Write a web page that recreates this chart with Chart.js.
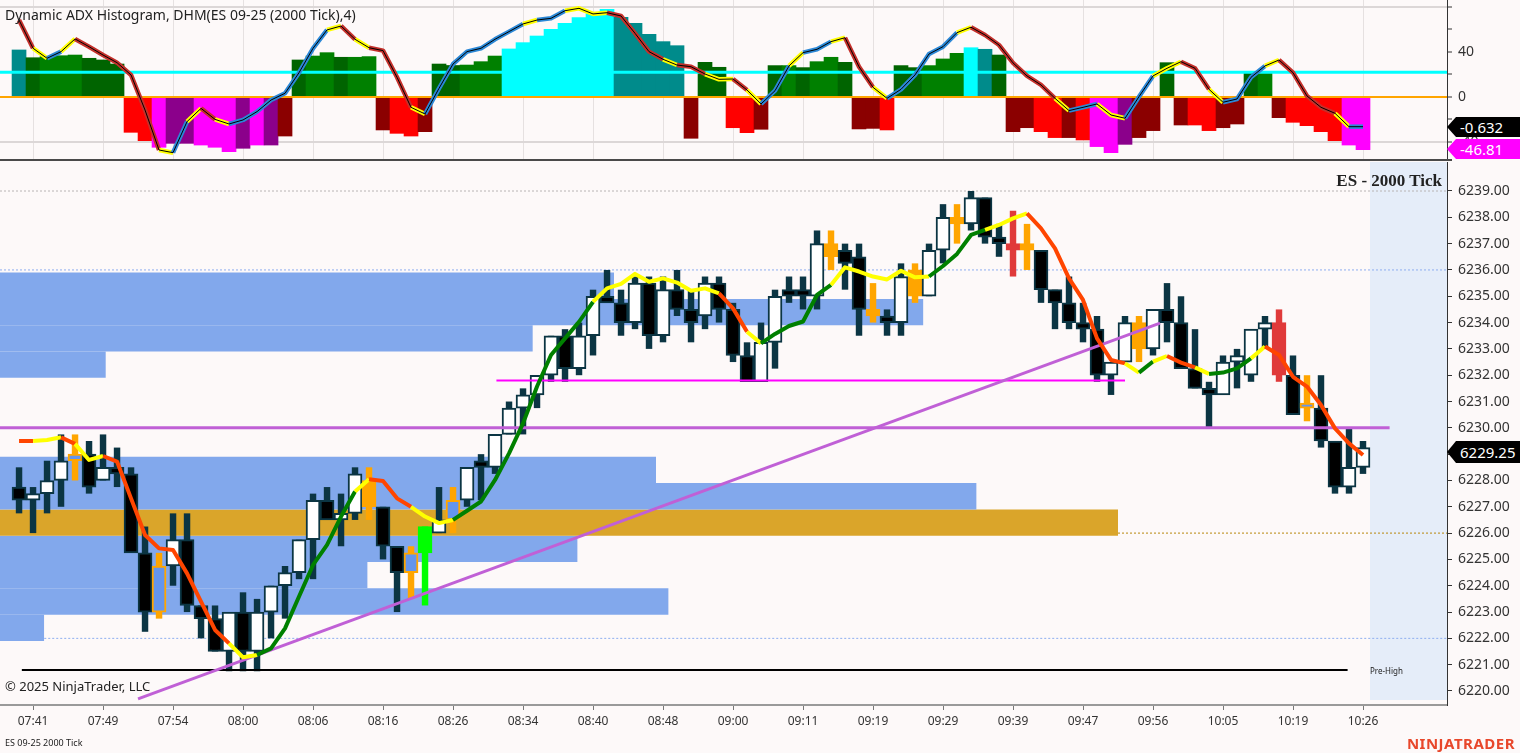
<!DOCTYPE html>
<html>
<head>
<meta charset="utf-8">
<script src="https://cdn.jsdelivr.net/npm/chart.js@4.4.1/dist/chart.umd.min.js"></script>
<style>
  html, body { margin: 0; padding: 0; background: #fdf9f9; }
  body { width: 1520px; height: 753px; position: relative; overflow: hidden; font-family: 'Noto Sans', 'Open Sans', sans-serif; color: #222; }
  canvas { position: absolute; left: 0; }
  #adx { top: 0; }
  #price { top: 160px; }
  .txt { position: absolute; white-space: nowrap; }
  .tag { position: absolute; left: 1447px; width: 60px; padding-left: 13px; color: #fff; font-size: 15px;
         clip-path: polygon(0 50%, 9px 0, 100% 0, 100% 100%, 9px 100%); }
  #sep { position: absolute; left: 0; top: 159px; width: 1452px; height: 2px; background: #4a4a4a; }
</style>
</head>
<body>
<canvas id="adx" width="1520" height="160"></canvas>
<canvas id="price" width="1520" height="593"></canvas>
<div id="sep"></div>

<div class="txt" style="left:5px; top:5px; font-size:14px; line-height:20px;">Dynamic ADX Histogram, DHM(ES 09-25 (2000 Tick),4)</div>
<div class="txt" style="right:78px; top:171px; font-size:17px; line-height:20px; font-weight:bold; font-family:'Liberation Serif', 'DejaVu Serif', serif;">ES - 2000 Tick</div>
<div class="txt" style="left:5px; top:677px; font-size:13px; line-height:18px;">© 2025 NinjaTrader, LLC</div>
<div class="txt" style="left:1370px; top:666px; font-size:8px; line-height:10px;">Pre-High</div>
<div class="txt" style="left:5px; top:737px; font-size:9px; line-height:12px;">ES 09-25 2000 Tick</div>
<div class="txt" style="right:5px; top:734px; font-size:15px; line-height:18px; font-weight:bold; color:#e8472b; letter-spacing:0.5px;">NINJATRADER</div>

<div class="tag" style="top:117px; height:20px; line-height:20px; background:#000;">-0.632</div>
<div class="tag" style="top:139px; height:20px; line-height:20px; background:#ff00ff;">-46.81</div>
<div class="tag" style="top:441px; height:22px; line-height:22px; background:#000;">6229.25</div>

<script>
console.log("dhm chart loaded");

// time axis
const timeLabels = ["07:41", "07:49", "07:54", "08:00", "08:06", "08:16", "08:26", "08:34", "08:40", "08:48",
  "09:00", "09:11", "09:19", "09:29", "09:39", "09:47", "09:56", "10:05", "10:19", "10:26"];
const labelBars = [1, 6, 11, 16, 21, 26, 31, 36, 41, 46, 51, 56, 61, 66, 71, 76, 81, 86, 91, 96];

// price bars (2000 tick)
const opens = [6227.75, 6227.25, 6227.5, 6228.0, 6228.75, 6229.0, 6228.0, 6228.5, 6228.25, 6225.25,
  6223.0, 6224.75, 6225.75, 6223.25, 6222.75, 6221.5, 6223.0, 6221.5, 6223.0, 6224.0,
  6224.5, 6225.75, 6227.25, 6226.5, 6226.75, 6228.0, 6227.0, 6225.5, 6224.5, 6225.25,
  6226.0, 6226.5, 6227.25, 6228.75, 6228.5, 6229.75, 6230.75, 6231.25, 6232.0, 6233.5,
  6232.25, 6233.5, 6235.0, 6234.75, 6234.0, 6235.5, 6233.5, 6235.25, 6234.5, 6234.25,
  6235.5, 6234.5, 6232.75, 6231.75, 6233.25, 6235.25, 6235.25, 6235.0, 6236.5, 6236.75,
  6236.5, 6234.5, 6234.25, 6234.0, 6236.0, 6235.0, 6236.75, 6238.0, 6237.75, 6238.75,
  6237.25, 6237.0, 6237.0, 6236.75, 6235.25, 6234.75, 6234.0, 6233.75, 6232.0, 6232.5,
  6234.0, 6233.0, 6234.5, 6234.0, 6232.25, 6231.5, 6231.25, 6232.5, 6232.0, 6233.75,
  6234.0, 6232.0, 6230.75, 6230.75, 6229.5, 6227.75, 6228.5];
const highs = [6228.5, 6227.75, 6228.75, 6229.75, 6229.75, 6229.5, 6229.75, 6229.25, 6228.5, 6226.25,
  6225.25, 6226.75, 6226.75, 6223.25, 6223.25, 6223.0, 6223.75, 6223.5, 6224.0, 6224.75,
  6225.75, 6227.5, 6227.75, 6227.5, 6228.5, 6228.5, 6227.0, 6225.5, 6225.5, 6226.25,
  6227.75, 6227.75, 6228.5, 6229.0, 6229.75, 6231.0, 6231.5, 6232.0, 6233.5, 6233.75,
  6234.0, 6235.25, 6236.0, 6235.25, 6235.75, 6235.75, 6235.75, 6236.0, 6235.25, 6235.75,
  6235.75, 6234.75, 6233.25, 6234.0, 6235.25, 6235.75, 6235.75, 6237.5, 6237.5, 6237.0,
  6237.0, 6235.5, 6234.5, 6236.25, 6236.25, 6237.0, 6238.5, 6238.5, 6239.0, 6238.75,
  6237.75, 6238.25, 6237.75, 6236.75, 6235.25, 6235.75, 6234.75, 6234.25, 6232.5, 6234.25,
  6234.25, 6234.5, 6235.5, 6235.0, 6233.75, 6231.75, 6232.75, 6233.0, 6233.75, 6234.25,
  6234.5, 6232.75, 6232.0, 6232.0, 6229.5, 6230.0, 6229.5];
const lows = [6226.75, 6226.0, 6226.75, 6227.0, 6228.0, 6227.5, 6228.0, 6227.75, 6225.25, 6222.25,
  6222.75, 6224.0, 6223.0, 6222.0, 6221.5, 6220.75, 6220.75, 6220.75, 6222.0, 6222.75,
  6224.25, 6224.25, 6226.5, 6225.5, 6226.5, 6226.5, 6225.0, 6223.0, 6223.5, 6223.25,
  6226.0, 6226.0, 6227.0, 6227.25, 6228.25, 6229.75, 6229.75, 6230.75, 6231.75, 6231.75,
  6232.0, 6232.75, 6234.75, 6233.5, 6233.75, 6233.0, 6233.25, 6234.25, 6233.25, 6233.75,
  6234.0, 6232.5, 6231.75, 6231.75, 6232.25, 6234.75, 6234.5, 6234.5, 6236.0, 6235.25,
  6233.5, 6234.0, 6233.5, 6233.5, 6234.75, 6235.0, 6236.25, 6237.0, 6237.5, 6237.0,
  6236.5, 6235.75, 6236.0, 6234.75, 6233.75, 6233.75, 6233.25, 6231.75, 6231.25, 6232.5,
  6232.5, 6232.75, 6233.25, 6232.25, 6231.5, 6230.0, 6231.25, 6231.5, 6231.75, 6233.0,
  6231.75, 6230.5, 6230.25, 6229.25, 6227.5, 6227.5, 6228.25];
const closes = [6227.25, 6227.5, 6228.0, 6228.75, 6229.0, 6227.75, 6228.5, 6228.25, 6225.25, 6223.0,
  6224.75, 6225.75, 6223.25, 6222.75, 6221.5, 6223.0, 6221.5, 6223.0, 6224.0, 6224.5,
  6225.75, 6227.25, 6226.5, 6226.75, 6228.25, 6227.0, 6225.5, 6224.5, 6225.25, 6226.25,
  6226.5, 6227.25, 6228.5, 6228.5, 6229.75, 6230.75, 6231.25, 6232.0, 6233.5, 6232.25,
  6233.5, 6235.0, 6234.75, 6234.0, 6235.5, 6233.5, 6235.25, 6234.5, 6234.0, 6235.5,
  6234.5, 6232.75, 6231.75, 6233.25, 6235.0, 6235.0, 6235.0, 6237.0, 6237.0, 6236.25,
  6234.5, 6234.25, 6234.0, 6235.75, 6235.0, 6236.75, 6238.0, 6237.75, 6238.75, 6237.25,
  6237.0, 6236.75, 6236.75, 6235.25, 6234.75, 6234.0, 6233.75, 6232.0, 6232.5, 6234.0,
  6233.0, 6234.5, 6234.0, 6232.25, 6231.5, 6231.25, 6232.5, 6232.75, 6233.75, 6234.0,
  6232.0, 6230.5, 6230.75, 6229.5, 6227.75, 6228.5, 6229.25];
// n = normal, o = orange signal, ob = orange signal with hollow body, g = green signal, r = red signal
const candleKind = ["n", "n", "n", "n", "ob", "n", "n", "n", "n", "n",
  "ob", "n", "n", "n", "n", "n", "n", "n", "n", "n",
  "n", "n", "n", "n", "n", "o", "n", "n", "ob", "g",
  "n", "ob", "n", "n", "n", "n", "n", "n", "n", "n",
  "n", "n", "n", "n", "n", "n", "n", "n", "n", "n",
  "n", "n", "n", "n", "n", "n", "n", "n", "o", "n",
  "n", "o", "n", "n", "o", "n", "n", "o", "n", "n",
  "n", "r", "o", "n", "n", "n", "n", "n", "n", "n",
  "o", "n", "n", "n", "n", "n", "n", "n", "n", "n",
  "r", "n", "ob", "n", "n", "n", "n"];

// trend moving average on price, with its trend state per segment (d = down, f = flat, u = up)
const maValues = [6229.5, 6229.5, 6229.54, 6229.64, 6229.39, 6228.78, 6228.93, 6228.72, 6227.32, 6225.93,
  6225.42, 6225.36, 6224.47, 6223.4, 6222.32, 6221.81, 6221.28, 6221.37, 6221.62, 6222.38,
  6223.59, 6224.79, 6225.55, 6226.63, 6227.58, 6228.05, 6227.98, 6227.32, 6227.0, 6226.63,
  6226.38, 6226.5, 6226.85, 6227.2, 6228.02, 6229.03, 6230.17, 6231.57, 6232.77, 6233.4,
  6234.03, 6234.79, 6235.3, 6235.47, 6235.85, 6235.55, 6235.68, 6235.52, 6235.21, 6235.3,
  6235.11, 6234.54, 6233.65, 6233.21, 6233.57, 6233.87, 6234.04, 6235.05, 6235.43, 6236.1,
  6235.94, 6235.75, 6235.64, 6235.97, 6235.72, 6235.75, 6236.15, 6236.61, 6237.33, 6237.52,
  6237.71, 6237.96, 6238.15, 6237.58, 6236.82, 6235.68, 6234.86, 6233.4, 6232.58, 6232.45,
  6232.1, 6232.52, 6232.73, 6232.48, 6232.3, 6232.05, 6232.1, 6232.26, 6232.64, 6233.09,
  6232.77, 6231.94, 6231.57, 6230.87, 6229.98, 6229.41, 6228.97];
const maTrend = ["d", "f", "f", "d", "f", "f", "d", "d", "d", "d",
  "d", "d", "d", "d", "d", "f", "f", "u", "u", "u",
  "u", "u", "u", "u", "f", "d", "d", "d", "f", "f",
  "f", "u", "u", "u", "u", "u", "u", "u", "u", "u",
  "u", "f", "f", "f", "f", "f", "f", "f", "f", "f",
  "d", "d", "f", "u", "u", "u", "u", "u", "f", "f",
  "f", "f", "f", "f", "f", "u", "u", "u", "u", "f",
  "f", "f", "d", "d", "d", "d", "d", "d", "d", "f",
  "u", "f", "d", "d", "f", "u", "u", "u", "f", "d",
  "d", "d", "d", "d", "d", "d"];

// zones: [low, high] price band and the bar where it ends
const zoneLow = [6234.9, 6233.9, 6232.9, 6231.9, 6227.9, 6226.9, 6225.9, 6224.9, 6223.9, 6222.9, 6221.9];
const zoneHigh = [6235.9, 6234.9, 6233.9, 6232.9, 6228.9, 6227.9, 6226.9, 6225.9, 6224.9, 6223.9, 6222.9];
const zoneEnd = [42.5, 64.6, 36.7, 6.2, 45.5, 68.4, 78.5, 39.9, 24.9, 46.4, 1.8];
const zoneKind = ["s", "s", "s", "s", "d", "d", "g", "d", "d", "d", "d"];

// dotted level lines
const dotLevels = [6239.0, 6236.0, 6226.0, 6222.0];
const dotStart = [-1.36, -1.36, 78.5, 1.8];
const dotKind = ["gray", "blue", "gold", "blue"];

// drawn lines
const pivotLevel = 6230.0;
const pivotSpan = [-1.36, 97.9];
const pinkLevel = 6231.8;
const pinkSpan = [34.1, 79.0];
const preHigh = 6220.8;
const preHighSpan = [0.2, 94.9];
const trendX = [8.5, 81.5];
const trendY = [6219.7, 6233.98];
const futureFrom = 96.5;
const futureLow = 6219.66;
const priceTicks = [6220, 6221, 6222, 6223, 6224, 6225, 6226, 6227, 6228, 6229,
  6230, 6231, 6232, 6233, 6234, 6235, 6236, 6237, 6238, 6239];

// ADX histogram panel
const histValues = [41.8, 34.9, 35.9, 36.7, 37.3, 34.4, 32.9, 29.3, -31.4, -38.8,
  -44.7, -41.2, -41.2, -42.7, -44.7, -48.6, -45.6, -42.7, -42.7, -34.7,
  32.9, 36.4, 39.4, 35.3, 35.3, 35.9, -29.3, -32.3, -34.7, -30.8,
  29.3, 28.0, 28.4, 31.4, 36.4, 42.7, 48.3, 54.2, 60.1, 65.5,
  70.5, 73.8, 77.9, 70.8, 65.5, 55.7, 49.2, 45.6, -36.7, 30.8,
  26.4, -27.3, -31.7, -28.7, 27.9, 27.9, 26.1, 31.4, 35.3, 30.8,
  -28.4, -27.9, -29.3, 27.9, 26.1, 27.9, 33.8, 38.8, 43.8, 42.4,
  37.3, -30.8, -27.3, -30.8, -36.1, -36.1, -38.2, -44.1, -49.5, -42.1,
  -36.1, -29.9, 30.5, -24.9, -24.9, -29.9, -27.3, -24.0, 21.0, 21.0,
  -18.4, -22.5, -25.5, -30.8, -38.8, -42.7, -46.8];
const histState = ["T", "DG", "G", "G", "G", "DG", "DG", "DG", "R", "R",
  "M", "P", "P", "M", "M", "M", "P", "M", "P", "DR",
  "DG", "G", "G", "DG", "G", "G", "DR", "R", "R", "DR",
  "DG", "DG", "G", "G", "G", "C", "C", "C", "C", "C",
  "C", "C", "C", "T", "T", "T", "T", "T", "DR", "DG",
  "DG", "R", "R", "DR", "DG", "G", "DG", "G", "G", "DG",
  "DR", "DR", "R", "DG", "DG", "G", "G", "G", "C", "T",
  "DG", "DR", "DR", "R", "R", "DR", "R", "M", "M", "P",
  "DR", "DR", "DG", "DR", "R", "R", "DR", "DR", "DG", "G",
  "DR", "R", "R", "R", "R", "M", "M"];
const adxValues = [68.4, 43.3, 34.4, 40.3, 51.6, 44.7, 37.3, 30.5, 19.6, -11.6,
  -47.1, -49.5, -21.9, -10.1, -19.9, -24.0, -20.4, -13.0, -2.7, 3.3,
  21.6, 43.3, 59.6, 63.1, 51.3, 43.8, 41.2, 17.5, -9.2, -15.1,
  7.7, 29.3, 40.3, 43.3, 51.3, 58.1, 64.9, 68.4, 69.9, 76.7,
  78.8, 73.8, 74.9, 72.0, 56.6, 40.3, 33.5, 28.4, 26.9, 20.4,
  15.7, 16.0, 6.2, -6.2, 5.6, 27.6, 39.4, 42.4, 49.2, 52.7,
  26.9, 8.6, -1.2, 6.8, 19.6, 38.2, 44.7, 57.2, 62.0, 55.1,
  46.2, 30.3, 18.7, 10.7, -1.2, -12.1, -9.2, -6.2, -16.0, -18.9,
  0.3, 18.7, 25.5, 31.4, 25.5, 6.8, -4.7, -1.8, 17.5, 27.6,
  32.9, 21.6, 0.9, -9.2, -14.5, -26.4, -26.4];
const adxTrend = ["R", "Y", "B", "Y", "R", "R", "R", "R", "R", "R",
  "Y", "B", "Y", "R", "Y", "B", "B", "B", "B", "B",
  "B", "B", "Y", "R", "Y", "R", "R", "R", "Y", "B",
  "B", "B", "B", "B", "B", "B", "Y", "B", "B", "Y",
  "Y", "Y", "R", "R", "R", "R", "Y", "R", "R", "Y",
  "Y", "R", "Y", "B", "B", "Y", "B", "B", "Y", "R",
  "R", "Y", "B", "B", "B", "B", "B", "Y", "R", "R",
  "R", "R", "R", "R", "Y", "B", "B", "Y", "Y", "B",
  "B", "Y", "Y", "R", "R", "Y", "B", "B", "B", "Y",
  "R", "R", "R", "R", "Y", "B"];
const adxLevel = 22;
const adxTicks = [80, 60, 40, 20, 0, -20, -40];
const adxTickLabels = [40, 0, -40];

// ---- styling ----
Chart.defaults.font.family = "'Noto Sans', 'Open Sans', sans-serif";
Chart.defaults.color = "#333";
Chart.defaults.plugins.legend.display = false;
Chart.defaults.plugins.tooltip.enabled = false;

const xMin = -1.36;
const xMax = 102.0;

const histPalette = { T: "#008b8b", DG: "#006400", G: "#008000", C: "#00ffff", R: "#ff0000", DR: "#8b0000", M: "#ff00ff", P: "#8b008b" };
const adxPalette = { R: "#c4302b", Y: "#ffff00", B: "#2c88d6" };
const maPalette = { d: "#ff4500", f: "#ffff00", u: "#008000" };
const zonePalette = { s: "#82a8ec", d: "#82a8ec", g: "#daa52a" };
const dotPalette = { gray: "#b8b4b4", blue: "#8eaef0", gold: "#b8860b" };
const outline = "#0b3543";
const signalColor = { o: "#ffa500", ob: "#ffa500", g: "#00ff00", r: "#e03a3a" };

const pts = (arr) => arr.map((v, i) => ({ x: i, y: v }));
const flat = (y, x0, x1) => [{ x: x0, y: y }, { x: x1, y: y }];

function bodyFill(i) {
  const k = candleKind[i];
  if (k === "n") return closes[i] >= opens[i] ? "#ffffff" : "#000000";
  if (k === "ob") return "#6495ed";
  return signalColor[k];
}
function edgeColor(i) {
  const k = candleKind[i];
  return k === "n" ? outline : signalColor[k];
}

// ---- top panel: Dynamic ADX Histogram ----
new Chart(document.getElementById("adx").getContext("2d"), {
  type: "bar",
  data: {
    datasets: [
      { type: "line", data: pts(adxValues), borderColor: "#000", borderWidth: 1, pointRadius: 0, tension: 0, order: 1 },
      {
        type: "line", data: pts(adxValues), borderColor: adxPalette.R, borderWidth: 4.5, pointRadius: 0, tension: 0,
        borderJoinStyle: "round", order: 2,
        segment: { borderColor: (c) => adxPalette[adxTrend[c.p0DataIndex]] },
      },
      { type: "line", data: flat(adxLevel, xMin, xMax), borderColor: "#00ffff", borderWidth: 3, pointRadius: 0, order: 3 },
      { type: "line", data: flat(0, xMin, xMax), borderColor: "#ffa500", borderWidth: 2, pointRadius: 0, order: 4 },
      {
        type: "bar", data: pts(histValues), backgroundColor: histState.map((k) => histPalette[k]),
        grouped: false, barPercentage: 1, categoryPercentage: 1, order: 5,
      },
    ],
  },
  options: {
    responsive: false,
    animation: false,
    events: [],
    layout: { padding: 0 },
    scales: {
      x: {
        type: "linear", min: xMin, max: xMax, offset: false,
        afterBuildTicks: (s) => { s.ticks = labelBars.map((v) => ({ value: v })); },
        afterFit: (s) => { s.height = 0; s.paddingLeft = 0; s.paddingRight = 0; },
        ticks: { display: false },
        grid: { color: "#e6e1e1", drawTicks: false, offset: false },
        border: { display: false },
      },
      y: {
        position: "right", min: -56, max: 86.2,
        afterBuildTicks: (s) => { s.ticks = adxTicks.map((v) => ({ value: v })); },
        afterFit: (s) => { s.width = 73; s.paddingTop = 0; s.paddingBottom = 0; },
        ticks: { callback: (v) => (adxTickLabels.includes(v) ? String(v) : ""), font: { size: 14 }, color: "#333", padding: 6 },
        grid: {
          color: (c) => (c.tick && (c.tick.value === 80 || c.tick.value === -40) ? "#dcd7d7" : "rgba(0,0,0,0)"),
          lineWidth: 2, tickLength: 5, tickColor: "#333", tickWidth: 1,
        },
        border: { color: "#333" },
      },
    },
  },
});

// ---- bottom panel: price ----
const priceSets = [];

priceSets.push({
  type: "line", data: flat(6240.2, futureFrom, xMax + 1), borderWidth: 0, pointRadius: 0,
  fill: { value: futureLow }, backgroundColor: "#e5edf9", order: 100,
});

zoneLow.forEach((lo, i) => {
  priceSets.push({
    type: "line", data: flat(zoneHigh[i], xMin - 1, zoneEnd[i]), borderWidth: 0, pointRadius: 0,
    fill: { value: lo }, backgroundColor: zonePalette[zoneKind[i]], order: 90,
  });
});

dotLevels.forEach((lv, i) => {
  priceSets.push({
    type: "line", data: flat(lv, dotStart[i], xMax + 1), borderColor: dotPalette[dotKind[i]],
    borderWidth: 1, borderDash: [2, 2], pointRadius: 0, order: 85,
  });
});

priceSets.push({
  type: "bar", data: lows.map((lo, i) => ({ x: i, y: [lo, highs[i]] })),
  backgroundColor: lows.map((_, i) => edgeColor(i)),
  grouped: false, barPercentage: 0.46, categoryPercentage: 1, borderSkipped: false, order: 50,
});
priceSets.push({
  type: "bar", data: opens.map((o, i) => ({ x: i, y: [o, closes[i]] })),
  backgroundColor: opens.map((_, i) => bodyFill(i)),
  borderColor: opens.map((_, i) => edgeColor(i)),
  borderWidth: 2, minBarLength: 5,
  grouped: false, barPercentage: 1, categoryPercentage: 1, borderSkipped: false, order: 40,
});

priceSets.push({ type: "line", data: flat(preHigh, preHighSpan[0], preHighSpan[1]), borderColor: "#000", borderWidth: 2, pointRadius: 0, order: 22 });
priceSets.push({ type: "line", data: flat(pinkLevel, pinkSpan[0], pinkSpan[1]), borderColor: "#ff00ff", borderWidth: 2, pointRadius: 0, order: 21 });
priceSets.push({ type: "line", data: flat(pivotLevel, pivotSpan[0], pivotSpan[1]), borderColor: "#c060d6", borderWidth: 3, pointRadius: 0, order: 20 });
priceSets.push({
  type: "line", data: [{ x: trendX[0], y: trendY[0] }, { x: trendX[1], y: trendY[1] }],
  borderColor: "#c060d6", borderWidth: 3, pointRadius: 0, order: 19,
});

priceSets.push({
  type: "line", data: pts(maValues), borderColor: maPalette.d, borderWidth: 4, pointRadius: 0, tension: 0,
  borderJoinStyle: "round", order: 10,
  segment: { borderColor: (c) => maPalette[maTrend[c.p0DataIndex]] },
});

new Chart(document.getElementById("price").getContext("2d"), {
  type: "bar",
  data: { datasets: priceSets },
  options: {
    responsive: false,
    animation: false,
    events: [],
    layout: { padding: { top: 2, left: 0, right: 0, bottom: 0 } },
    scales: {
      x: {
        type: "linear", min: xMin, max: xMax, offset: false,
        afterBuildTicks: (s) => { s.ticks = labelBars.map((v) => ({ value: v })); },
        afterFit: (s) => { s.height = 48; s.paddingLeft = 0; s.paddingRight = 0; },
        ticks: {
          autoSkip: false, maxRotation: 0, padding: 4, font: { size: 12 }, color: "#333",
          callback: (v) => timeLabels[labelBars.indexOf(v)],
        },
        grid: { drawOnChartArea: false, tickLength: 5, color: "#777", offset: false },
        border: { color: "#9a9a9a", width: 2 },
      },
      y: {
        position: "right", min: 6219.468, max: 6240.102,
        afterBuildTicks: (s) => { s.ticks = priceTicks.map((v) => ({ value: v })); },
        afterFit: (s) => { s.width = 73; s.paddingTop = 0; s.paddingBottom = 0; },
        ticks: { callback: (v) => v.toFixed(2), font: { size: 14 }, color: "#333", padding: 6 },
        grid: { drawOnChartArea: false, tickLength: 5, color: "#333" },
        border: { color: "#333" },
      },
    },
  },
});
</script>
</body>
</html>
